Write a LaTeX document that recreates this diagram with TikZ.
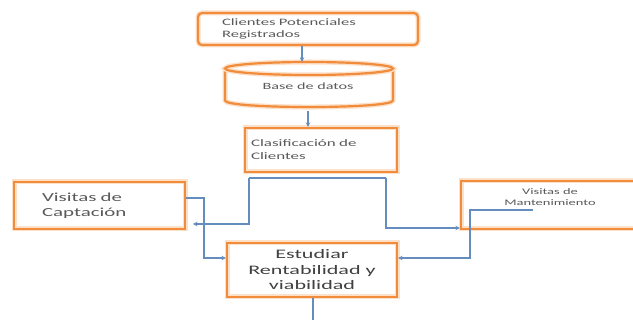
\documentclass[tikz,border=0pt]{standalone}
\usepackage{fontspec}
\setmainfont[FakeStretch=1.7]{Carlito}
\usetikzlibrary{arrows.meta}
\definecolor{borange}{RGB}{240,140,60}
\definecolor{glow}{RGB}{252,224,200}
\definecolor{lblue}{RGB}{100,140,190}
\definecolor{txt}{RGB}{90,90,90}
\begin{document}
\begin{tikzpicture}[x=1pt,y=-1pt,
  box/.style={draw=borange, line width=2.2pt, preaction={draw=glow,line width=5pt}, inner sep=0pt, text=txt},
  conn/.style={draw=lblue, line width=1.1pt},
  arr/.style={conn, -{Stealth[length=4.5pt,width=4.5pt]}}]
\clip (0,0) rectangle (633,320);
\fill[white] (0,0) rectangle (633,320);
% boxes
\node[box, rounded corners=4pt, minimum width=220pt, minimum height=32pt, text width=172pt, align=left, inner xsep=24pt, font=\fontsize{9.8}{12}\selectfont] (reg) at (308,29) {Clientes Potenciales\\Registrados};
\draw[box] (225,68.5) -- (225,100.5) .. controls (225,109.2) and (393,109.2) .. (393,100.5) -- (393,68.5);
\draw[box] (309,68.5) ellipse [x radius=84, y radius=6.5];
\node[inner sep=0pt, minimum width=168pt, minimum height=49pt, text=txt, font=\fontsize{9.5}{12}\selectfont] (db) at (308,86.5) {Base de datos};
\node[box, minimum width=152pt, minimum height=44pt, text width=140pt, inner xsep=6pt, align=left, font=\fontsize{10}{13}\selectfont] (cls) at (321,150) {Clasificación de\\Clientes};
\node[box, minimum width=171pt, minimum height=47pt, text width=115pt, inner xsep=28pt, align=left, font=\fontsize{12.3}{15}\selectfont] (capt) at (99.5,205.5) {Visitas de\\Captación};
\node[box, minimum width=170pt, minimum height=54pt, align=center, text=black!75, font=\fontsize{13}{15.5}\selectfont] (est) at (312,270) {Estudiar\\Rentabilidad y\\viabilidad};
\node[box, minimum width=184pt, minimum height=48pt] (mant) at (553,205) {};
\node[inner sep=0pt, text=txt, font=\fontsize{8.5}{11}\selectfont, align=center] (manttxt) at (550,197.5) {Visitas de\\Mantenimiento};
% connectors
\draw[arr] (reg.south -| 302,0) -- (db.north -| 302,0);
\draw[arr] (db.south -| 308,0) -- (cls.north -| 308,0);
\coordinate (sl) at (249,178);
\coordinate (sr) at (386,178);
\coordinate (ca) at (193,224);
\draw[conn] (sl) -- (sr);
\draw[arr] (sl) |- (ca);
\draw[arr] (sr) |- (mant.west |- 0,228);
\draw[arr] (capt.east |- 0,198) -- (204,198) |- (est.west |- 0,258);
\coordinate (ms) at (533,210);
\draw[arr] (ms) -- (470,210) |- (est.east |- 0,258);
\coordinate (bot) at (313,330);
\draw[conn] (est.south -| bot) -- (bot);
\end{tikzpicture}
\end{document}
